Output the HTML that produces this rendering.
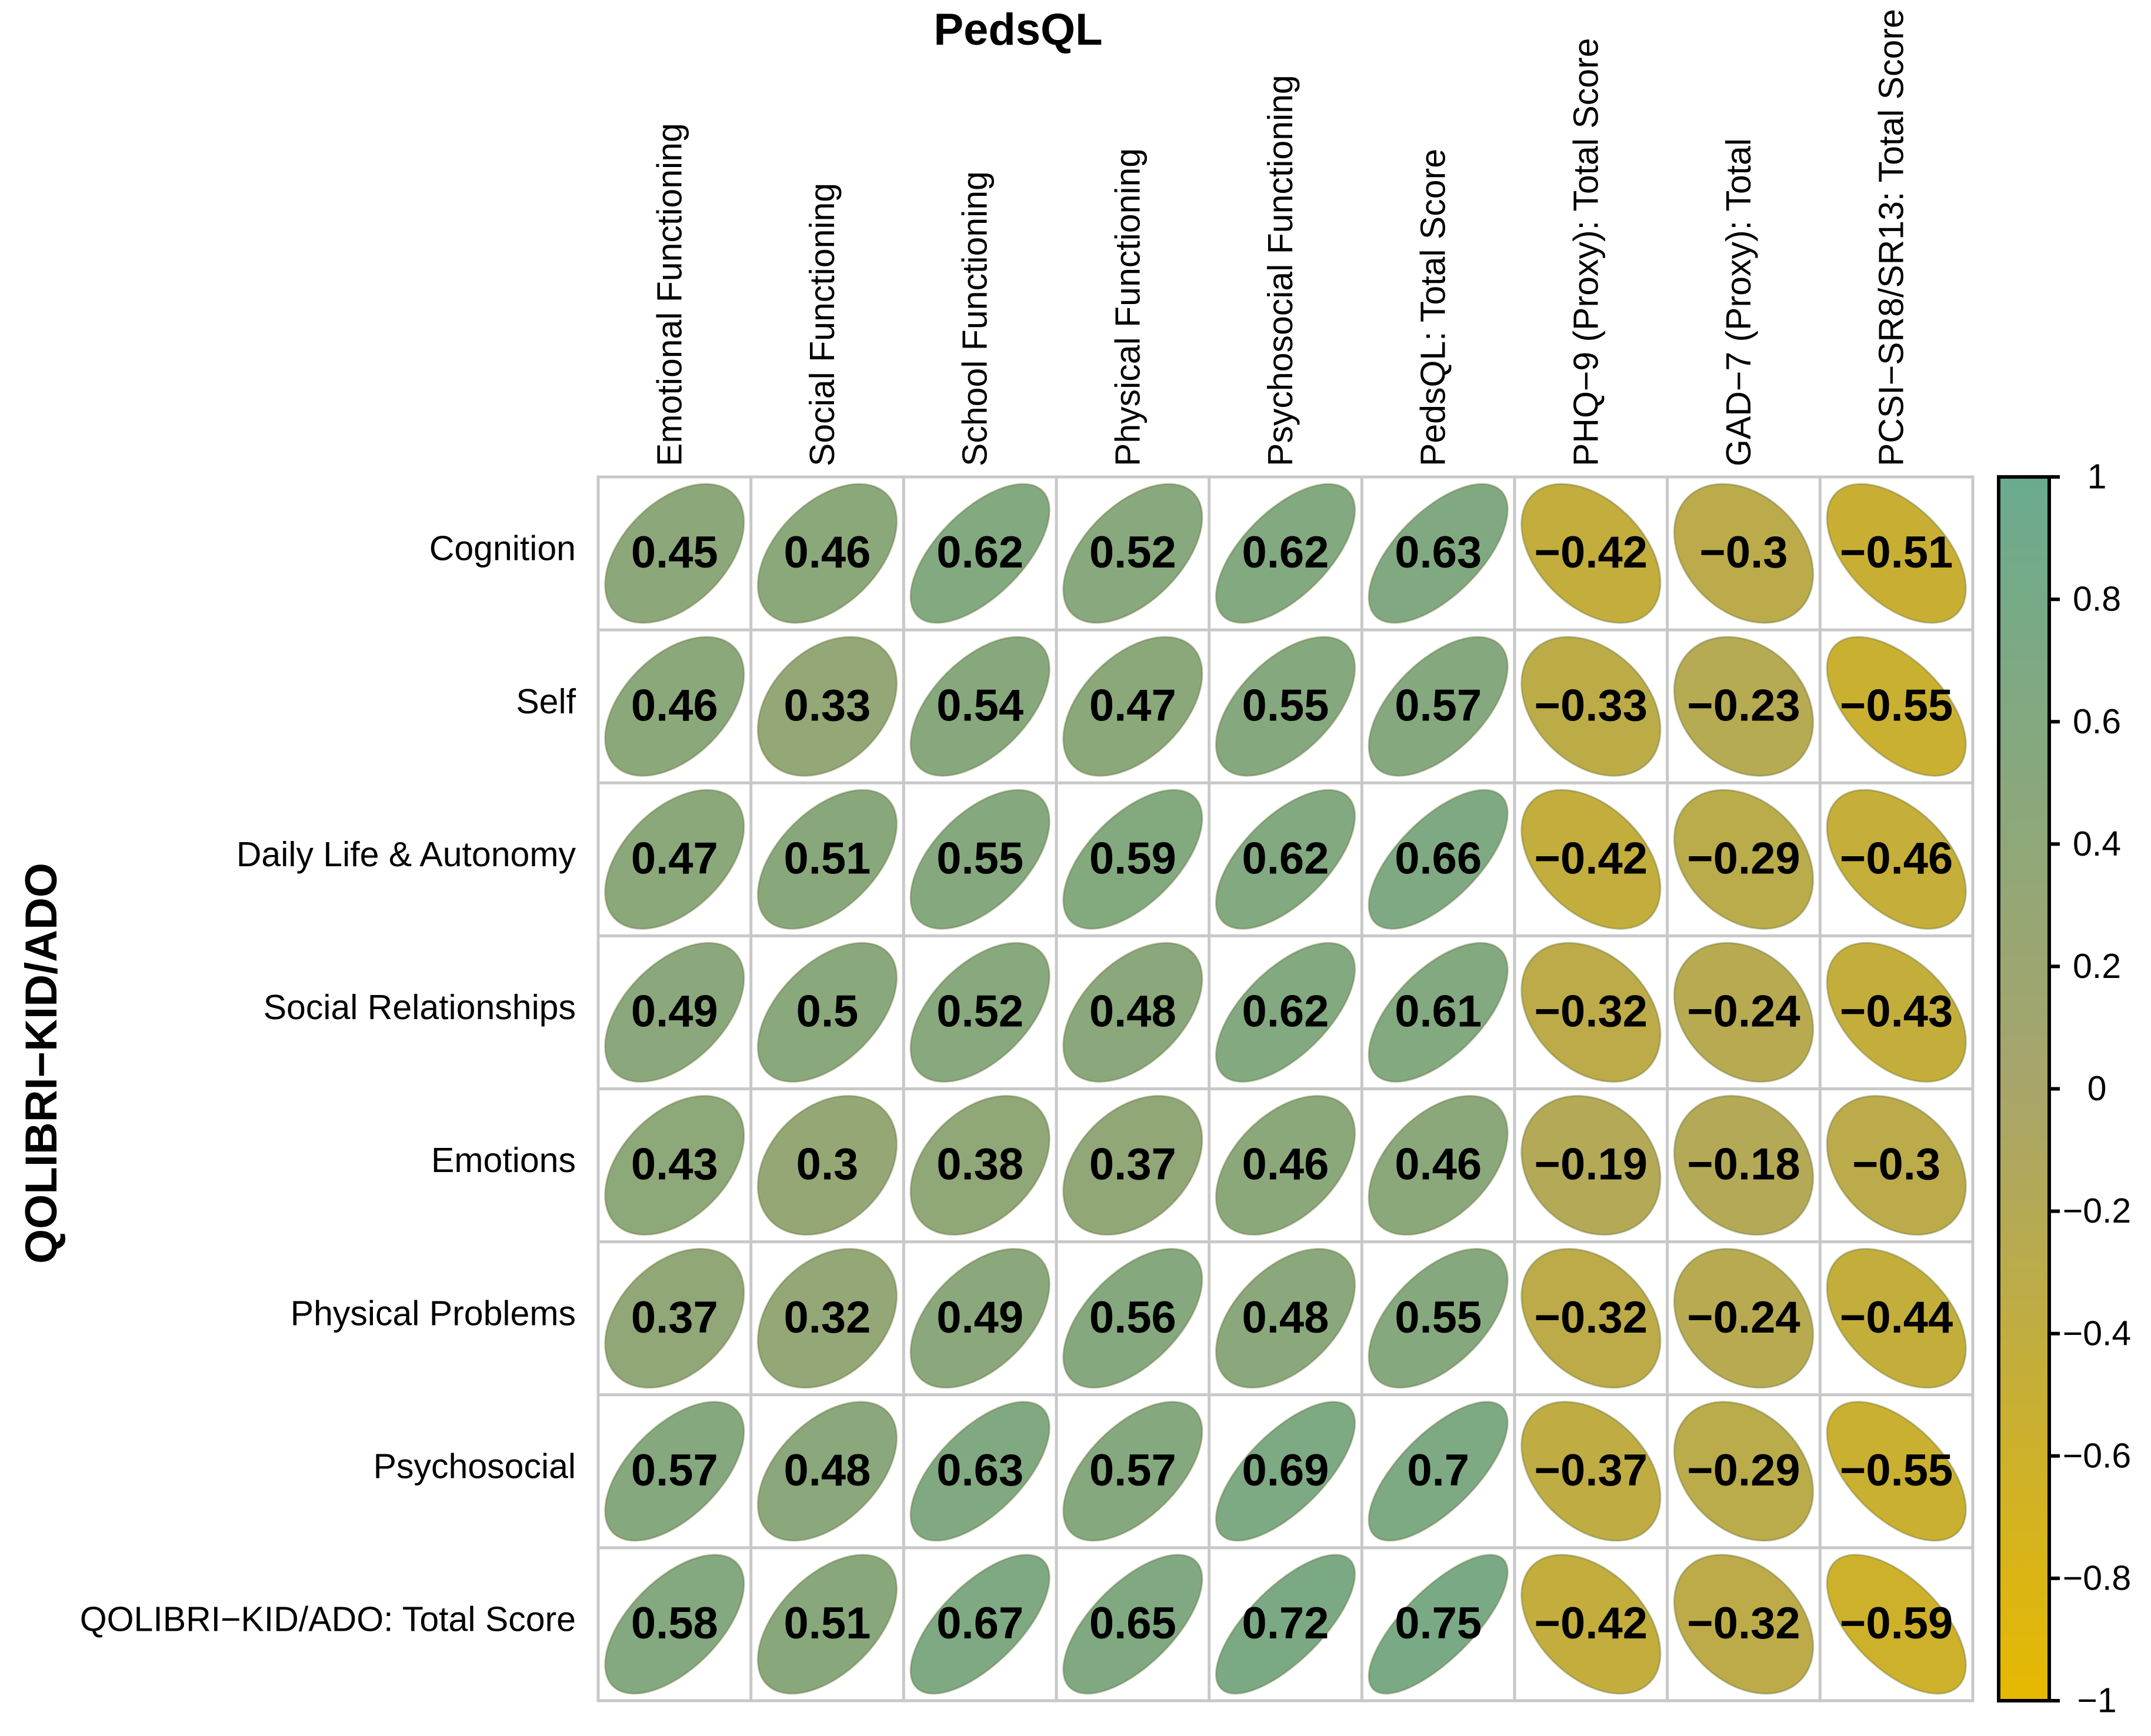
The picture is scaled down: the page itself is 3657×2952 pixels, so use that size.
<!DOCTYPE html>
<html><head><meta charset="utf-8"><style>
html,body{margin:0;padding:0;background:#fff;}
svg{display:block;}
text{font-family:"Liberation Sans",Arial,sans-serif;}
</style></head><body>
<svg id="chart" width="3657" height="2952" viewBox="0 0 3657 2952" xmlns="http://www.w3.org/2000/svg">
<rect width="3657" height="2952" fill="#fff"/>
<text x="1731" y="76" font-size="76" font-weight="bold" text-anchor="middle">PedsQL</text>
<text x="0" y="0" font-size="76" font-weight="bold" text-anchor="middle" transform="translate(96,1808) rotate(-90)">QOLIBRI−KID/ADO</text>
<g id="cells"></g>
<g id="colorbar"></g>
</svg>
<script>
const cols = ["Emotional Functioning","Social Functioning","School Functioning","Physical Functioning","Psychosocial Functioning","PedsQL: Total Score","PHQ−9 (Proxy): Total Score","GAD−7 (Proxy): Total","PCSI−SR8/SR13: Total Score"];
const rows = ["Cognition","Self","Daily Life & Autonomy","Social Relationships","Emotions","Physical Problems","Psychosocial","QOLIBRI−KID/ADO: Total Score"];
const rCognition = [0.45,0.46,0.62,0.52,0.62,0.63,-0.42,-0.3,-0.51];
const rSelf = [0.46,0.33,0.54,0.47,0.55,0.57,-0.33,-0.23,-0.55];
const rDaily = [0.47,0.51,0.55,0.59,0.62,0.66,-0.42,-0.29,-0.46];
const rSocial = [0.49,0.5,0.52,0.48,0.62,0.61,-0.32,-0.24,-0.43];
const rEmotions = [0.43,0.3,0.38,0.37,0.46,0.46,-0.19,-0.18,-0.3];
const rPhysical = [0.37,0.32,0.49,0.56,0.48,0.55,-0.32,-0.24,-0.44];
const rPsycho = [0.57,0.48,0.63,0.57,0.69,0.7,-0.37,-0.29,-0.55];
const rTotal = [0.58,0.51,0.67,0.65,0.72,0.75,-0.42,-0.32,-0.59];
const matrix = [rCognition,rSelf,rDaily,rSocial,rEmotions,rPhysical,rPsycho,rTotal];
const cbTicks = [1,0.8,0.6,0.4,0.2,0,-0.2,-0.4,-0.6,-0.8,-1];

const NS="http://www.w3.org/2000/svg";
const gx0=1017, gx1=3354, gy0=811, gy1=2892;
const cw=(gx1-gx0)/cols.length, ch=(gy1-gy0)/rows.length;
const xPos=i=>gx0+cw*(i+0.5);
const yPos=j=>gy0+ch*(j+0.5);
function mk(tag,attrs,parent){const e=document.createElementNS(NS,tag);for(const k in attrs)e.setAttribute(k,attrs[k]);parent.appendChild(e);return e;}
function lerp(a,b,t){return a+(b-a)*t;}
function color(r){
  const mid=[168,165,106], pos=[106,171,142], neg=[230,185,0];
  const t=Math.min(1,Math.abs(r)), tgt=r>=0?pos:neg;
  return `rgb(${Math.round(lerp(mid[0],tgt[0],t))},${Math.round(lerp(mid[1],tgt[1],t))},${Math.round(lerp(mid[2],tgt[2],t))})`;
}
function fmt(v){return (v<0?"−":"")+String(Math.abs(v));}
const svg=document.getElementById('chart');
const cells=document.getElementById('cells');
const bg=mk('rect',{x:gx0,y:gy0,width:gx1-gx0,height:gy1-gy0,fill:'#fff',stroke:'#c8c8c8','stroke-width':5},cells);


for(let i=1;i<cols.length;i++){
  const l=mk('line',{x1:gx0+cw*i,x2:gx0+cw*i,y1:gy0,y2:gy1,stroke:'#c8c8c8','stroke-width':5},cells);
  
  
}
for(let j=1;j<rows.length;j++){
  const l=mk('line',{x1:gx0,x2:gx1,y1:gy0+ch*j,y2:gy0+ch*j,stroke:'#c8c8c8','stroke-width':5},cells);
  
  
}
cols.forEach((c,i)=>{
  const t=mk('text',{x:0,y:0,'font-size':59,'text-anchor':'start','dominant-baseline':'middle',transform:`translate(${xPos(i)-4},${gy0-18}) rotate(-90)`},svg);
  t.textContent=c;
  
  
});
rows.forEach((r,j)=>{
  const t=mk('text',{x:gx0-38,y:yPos(j)-4,'font-size':59,'text-anchor':'end','dominant-baseline':'middle'},svg);
  t.textContent=r;
  
  
});
const k=0.455*cw;
matrix.forEach((row,j)=>{
  row.forEach((v,i)=>{
    const a=k*Math.sqrt(1+Math.abs(v)), b=k*Math.sqrt(1-Math.abs(v));
    const ang=v>=0?-45:45;
    const e=mk('ellipse',{cx:xPos(i),cy:yPos(j),rx:a,ry:b,fill:color(v),stroke:'rgba(90,100,40,0.35)','stroke-width':3,transform:`rotate(${ang} ${xPos(i)} ${yPos(j)})`},cells);
    
    
    const t=mk('text',{x:xPos(i),y:yPos(j)+4,'font-size':76,'font-weight':'bold','text-anchor':'middle','dominant-baseline':'middle'},cells);
    t.textContent=fmt(v);
    
    
  });
});
const cb=document.getElementById('colorbar');
const cbx0=3398, cbx1=3484;
const cbY=v=>gy0+(1-v)/2*(gy1-gy0);
const defs=mk('defs',{},cb);
const grad=mk('linearGradient',{id:'cbg',x1:0,y1:0,x2:0,y2:1},defs);
[1,0.5,0,-0.5,-1].forEach(v=>{mk('stop',{offset:((1-v)/2*100)+'%','stop-color':color(v)},grad);});
const bar=mk('rect',{x:cbx0,y:gy0,width:cbx1-cbx0,height:gy1-gy0,fill:'url(#cbg)',stroke:'#000','stroke-width':6},cb);


cbTicks.forEach(v=>{
  const l=mk('line',{x1:cbx1,x2:cbx1+18,y1:cbY(v),y2:cbY(v),stroke:'#000','stroke-width':6},cb);
  
  
  const t=mk('text',{x:3565,y:cbY(v)+4,'font-size':59,'text-anchor':'middle','dominant-baseline':'middle'},cb);
  t.textContent=fmt(v);
  
  
});
</script>
</body></html>
